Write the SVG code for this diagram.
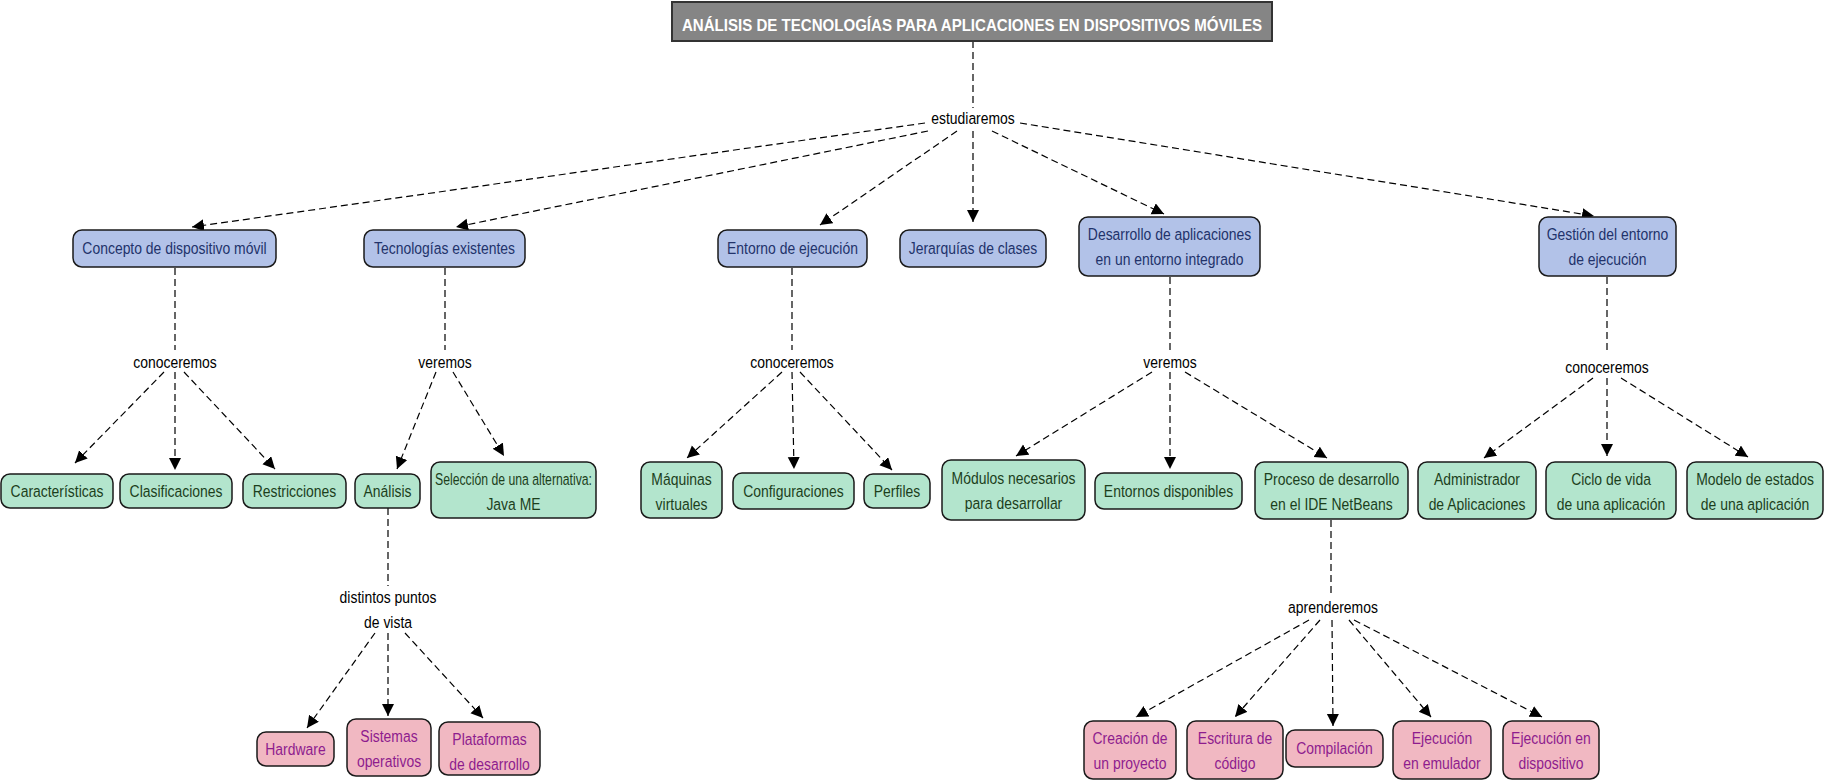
<svg xmlns="http://www.w3.org/2000/svg" width="1825" height="782" viewBox="0 0 1825 782">
<defs>
<marker id="arr" markerUnits="userSpaceOnUse" markerWidth="13" markerHeight="13" refX="12" refY="6" orient="auto" viewBox="0 0 13 13">
<path d="M0,0 L12,6 L0,12 z" fill="#000"/>
</marker>
<style>
text{font-family:"Liberation Sans Narrow","Arial Narrow","Liberation Sans",sans-serif;font-size:17px;text-anchor:middle;transform-box:fill-box;transform-origin:center;transform:scaleX(0.82)}
text.t{transform:none}
.c line{stroke:#000;stroke-width:1.2;stroke-dasharray:7 4;fill:none}
.c line.a{marker-end:url(#arr)}
.b rect{fill:#b2c2e8;stroke:#1a1a1a;stroke-width:1.5}
.b text{fill:#22336b}
.g rect{fill:#b3e5cd;stroke:#1a1a1a;stroke-width:1.5}
.g text{fill:#1c3f1c}
.p rect{fill:#f1b8c2;stroke:#1a1a1a;stroke-width:1.5}
.p text{fill:#8e1c8e}
.l{fill:#000}
</style>
</defs>
<rect width="1825" height="782" fill="#fff"/>

<g id="connectors" class="c">
<line x1="973" y1="41" x2="973" y2="108"/>
<line class="a" x1="925" y1="123" x2="192" y2="227"/>
<line class="a" x1="928" y1="131" x2="456" y2="227"/>
<line class="a" x1="957" y1="131" x2="820" y2="225"/>
<line class="a" x1="973" y1="131" x2="973" y2="222"/>
<line class="a" x1="992" y1="131" x2="1164" y2="214"/>
<line class="a" x1="1020" y1="123" x2="1594" y2="216"/>

<line x1="175" y1="268" x2="175" y2="350"/>
<line class="a" x1="164" y1="372" x2="75" y2="463"/>
<line class="a" x1="175" y1="372" x2="175" y2="470"/>
<line class="a" x1="184" y1="372" x2="275" y2="469"/>

<line x1="445" y1="268" x2="445" y2="350"/>
<line class="a" x1="436" y1="372" x2="397" y2="469"/>
<line class="a" x1="453" y1="372" x2="504" y2="456"/>

<line x1="388" y1="508" x2="388" y2="586"/>
<line class="a" x1="375" y1="633" x2="307" y2="728"/>
<line class="a" x1="388" y1="633" x2="388" y2="716"/>
<line class="a" x1="405" y1="633" x2="483" y2="718"/>

<line x1="792" y1="268" x2="792" y2="350"/>
<line class="a" x1="782" y1="372" x2="687" y2="458"/>
<line class="a" x1="792" y1="372" x2="794" y2="469"/>
<line class="a" x1="800" y1="372" x2="892" y2="470"/>

<line x1="1170" y1="277" x2="1170" y2="350"/>
<line class="a" x1="1152" y1="372" x2="1016" y2="456"/>
<line class="a" x1="1170" y1="372" x2="1170" y2="469"/>
<line class="a" x1="1185" y1="372" x2="1327" y2="458"/>

<line x1="1331" y1="520" x2="1331" y2="596"/>
<line class="a" x1="1309" y1="620" x2="1136" y2="717"/>
<line class="a" x1="1320" y1="620" x2="1235" y2="717"/>
<line class="a" x1="1332" y1="620" x2="1333" y2="726"/>
<line class="a" x1="1349" y1="620" x2="1431" y2="717"/>
<line class="a" x1="1354" y1="620" x2="1542" y2="717"/>

<line x1="1607" y1="277" x2="1607" y2="354"/>
<line class="a" x1="1593" y1="378" x2="1484" y2="458"/>
<line class="a" x1="1607" y1="378" x2="1607" y2="456"/>
<line class="a" x1="1621" y1="378" x2="1748" y2="457"/>
</g>

<g id="labels">
<text class="l" x="973" y="124">estudiaremos</text>
<text class="l" x="175" y="368">conoceremos</text>
<text class="l" x="445" y="368">veremos</text>
<text class="l" x="792" y="368">conoceremos</text>
<text class="l" x="1170" y="368">veremos</text>
<text class="l" x="1607" y="373">conoceremos</text>
<text class="l" x="388" y="603">distintos puntos</text>
<text class="l" x="388" y="628">de vista</text>
<text class="l" x="1333" y="613">aprenderemos</text>
</g>

<g id="title">
<rect x="672" y="2" width="600" height="39" fill="#858585" stroke="#333" stroke-width="2"/>
<text class="t" x="972" y="30.5" fill="#fff" font-weight="bold" font-size="25" textLength="580" lengthAdjust="spacingAndGlyphs">ANÁLISIS DE TECNOLOGÍAS PARA APLICACIONES EN DISPOSITIVOS MÓVILES</text>
</g>

<g id="n-concepto" class="b"><rect x="73" y="230" width="203" height="37" rx="9"/><text x="174.5" y="254.5">Concepto de dispositivo móvil</text></g>
<g id="n-tecnologias" class="b"><rect x="364" y="230" width="161" height="37" rx="9"/><text x="444.5" y="254.5">Tecnologías existentes</text></g>
<g id="n-entorno" class="b"><rect x="718" y="230" width="149" height="37" rx="9"/><text x="792.5" y="254.5">Entorno de ejecución</text></g>
<g id="n-jerarquias" class="b"><rect x="900" y="230" width="146" height="37" rx="9"/><text x="973" y="254.5">Jerarquías de clases</text></g>
<g id="n-desarrollo" class="b"><rect x="1079" y="217" width="181" height="59" rx="9"/><text x="1169.5" y="240">Desarrollo de aplicaciones</text><text x="1169.5" y="265">en un entorno integrado</text></g>
<g id="n-gestion" class="b"><rect x="1539" y="217" width="137" height="59" rx="9"/><text x="1607.5" y="240">Gestión del entorno</text><text x="1607.5" y="265">de ejecución</text></g>

<g id="n-caracteristicas" class="g"><rect x="1" y="474" width="112" height="34" rx="9"/><text x="57" y="497">Características</text></g>
<g id="n-clasificaciones" class="g"><rect x="120" y="474" width="112" height="34" rx="9"/><text x="176" y="497">Clasificaciones</text></g>
<g id="n-restricciones" class="g"><rect x="243" y="474" width="103" height="34" rx="9"/><text x="294.5" y="497">Restricciones</text></g>
<g id="n-analisis" class="g"><rect x="355" y="474" width="65" height="34" rx="9"/><text x="387.5" y="497">Análisis</text></g>
<g id="n-seleccion" class="g"><rect x="431" y="462" width="165" height="56" rx="9"/><text x="513.5" y="485" style="transform:scaleX(0.72)">Selección de una alternativa:</text><text x="513.5" y="510">Java ME</text></g>
<g id="n-maquinas" class="g"><rect x="641" y="462" width="81" height="56" rx="9"/><text x="681.5" y="485">Máquinas</text><text x="681.5" y="510">virtuales</text></g>
<g id="n-configuraciones" class="g"><rect x="733" y="473" width="121" height="36" rx="9"/><text x="793.5" y="497">Configuraciones</text></g>
<g id="n-perfiles" class="g"><rect x="864" y="474" width="66" height="34" rx="9"/><text x="897" y="497">Perfiles</text></g>
<g id="n-modulos" class="g"><rect x="942" y="460" width="143" height="60" rx="9"/><text x="1013.5" y="484">Módulos necesarios</text><text x="1013.5" y="509">para desarrollar</text></g>
<g id="n-entornos" class="g"><rect x="1095" y="473" width="147" height="36" rx="9"/><text x="1168.5" y="497">Entornos disponibles</text></g>
<g id="n-proceso" class="g"><rect x="1255" y="462" width="153" height="57" rx="9"/><text x="1331.5" y="485">Proceso de desarrollo</text><text x="1331.5" y="510">en el IDE NetBeans</text></g>
<g id="n-administrador" class="g"><rect x="1418" y="462" width="118" height="57" rx="9"/><text x="1477" y="485">Administrador</text><text x="1477" y="510">de Aplicaciones</text></g>
<g id="n-ciclo" class="g"><rect x="1546" y="462" width="130" height="57" rx="9"/><text x="1611" y="485">Ciclo de vida</text><text x="1611" y="510">de una aplicación</text></g>
<g id="n-modelo" class="g"><rect x="1687" y="462" width="136" height="57" rx="9"/><text x="1755" y="485">Modelo de estados</text><text x="1755" y="510">de una aplicación</text></g>

<g id="n-hardware" class="p"><rect x="257" y="732" width="77" height="34" rx="9"/><text x="295.5" y="755">Hardware</text></g>
<g id="n-sistemas" class="p"><rect x="347" y="719" width="84" height="57" rx="9"/><text x="389" y="742">Sistemas</text><text x="389" y="767">operativos</text></g>
<g id="n-plataformas" class="p"><rect x="439" y="722" width="101" height="53" rx="9"/><text x="489.5" y="745">Plataformas</text><text x="489.5" y="770">de desarrollo</text></g>
<g id="n-creacion" class="p"><rect x="1084" y="721" width="92" height="58" rx="9"/><text x="1130" y="744">Creación de</text><text x="1130" y="769">un proyecto</text></g>
<g id="n-escritura" class="p"><rect x="1187" y="721" width="96" height="58" rx="9"/><text x="1235" y="744">Escritura de</text><text x="1235" y="769">código</text></g>
<g id="n-compilacion" class="p"><rect x="1286" y="730" width="97" height="37" rx="9"/><text x="1334.5" y="754">Compilación</text></g>
<g id="n-emulador" class="p"><rect x="1393" y="721" width="98" height="58" rx="9"/><text x="1442" y="744">Ejecución</text><text x="1442" y="769">en emulador</text></g>
<g id="n-dispositivo" class="p"><rect x="1503" y="721" width="96" height="58" rx="9"/><text x="1551" y="744">Ejecución en</text><text x="1551" y="769">dispositivo</text></g>
</svg>
